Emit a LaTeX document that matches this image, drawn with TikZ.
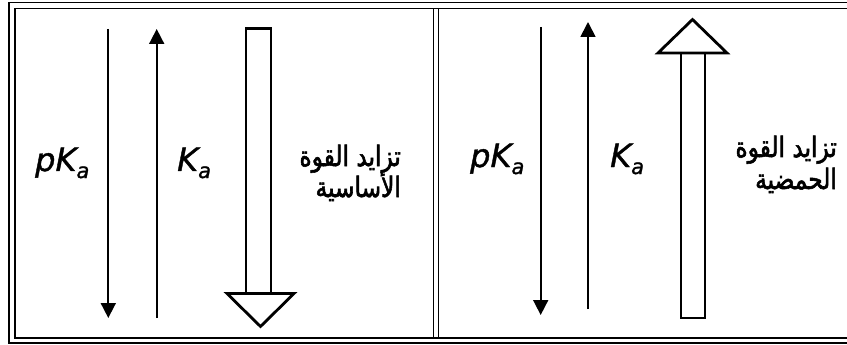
\documentclass[tikz,border=0pt]{standalone}
\usepackage{fontspec}
\setmainfont{DejaVu Sans}
\newfontfamily\arabicfont[Script=Arabic,FakeStretch=0.83,FakeBold=2]{DejaVu Sans}
\newfontfamily\lblfont[ItalicFeatures={FakeBold=1.2}]{DejaVu Sans}
\TeXXeTstate=1
\usetikzlibrary{arrows.meta}
\newcommand{\kasub}{\raisebox{-0.22em}{\fontsize{21}{21}\selectfont\itshape a}}
\begin{document}
\begin{tikzpicture}[x=1pt,y=-1pt,
  borderline/.style={line width=1.7pt},
  thinline/.style={line width=1.7pt},
  tipped/.style={thinline,-{Triangle[width=15pt,length=15pt]}},
  blockline/.style={line width=2.8pt, fill=white, line join=miter},
  lbl/.style={font=\lblfont\itshape\fontsize{32}{36}\selectfont, inner sep=0pt, anchor=base west},
  ar/.style={font=\arabicfont\fontsize{28}{32}\selectfont, inner sep=0pt, anchor=base east}]
\useasboundingbox (0,0) rectangle (847,345);
% table borders
\draw[borderline] (9,2.5) rectangle (870,343);
\draw[borderline] (15,8.5) rectangle (864,338);
\draw[borderline] (433.5,8.5) -- (433.5,338);
\draw[borderline] (438.5,8.5) -- (438.5,338);
% left panel
\coordinate (lp1) at (108.3,29);
\coordinate (lp2) at (108.3,318);
\coordinate (lk1) at (156.7,318);
\coordinate (lk2) at (156.7,29);
\draw[tipped] (lp1) -- (lp2);
\draw[tipped] (lk1) -- (lk2);
\node[lbl] (lpk) at (35,171) {pK\kasub};
\node[lbl] (lka) at (177,171) {K\kasub};
\draw[blockline] (246,28.5) rectangle (271,293.5);
\draw[blockline] (227,293.5) -- (294,293.5) -- (260.5,326.5) -- cycle;
\node[ar] (lt1) at (401,166) {\beginR تزايد القوة\endR};
\node[ar] (lt2) at (401,197) {\beginR الأساسية\endR};
% right panel
\coordinate (rp1) at (540.7,27);
\coordinate (rp2) at (540.7,315);
\coordinate (rk1) at (588,309);
\coordinate (rk2) at (588,22);
\draw[tipped] (rp1) -- (rp2);
\draw[tipped] (rk1) -- (rk2);
\node[lbl] (rpk) at (470,167) {pK\kasub};
\node[lbl] (rka) at (610,167) {K\kasub};
\draw[blockline] (681,53) rectangle (705,318);
\draw[blockline] (658,53) -- (727,53) -- (692.5,19.5) -- cycle;
\node[ar] (rt1) at (837,157) {\beginR تزايد القوة\endR};
\node[ar] (rt2) at (837,189) {\beginR الحمضية\endR};
\end{tikzpicture}
\end{document}
